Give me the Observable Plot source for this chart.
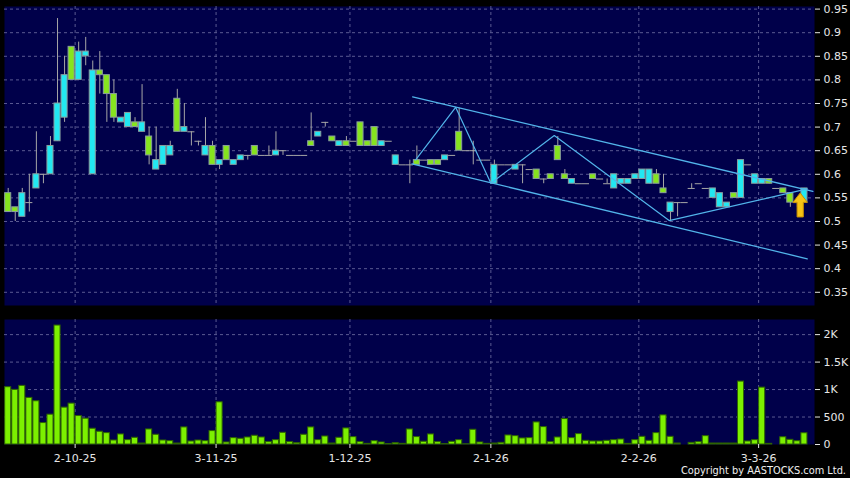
<!DOCTYPE html>
<html>
<head>
<meta charset="utf-8">
<script src="https://cdn.jsdelivr.net/npm/d3@7"></script>
<script src="https://cdn.jsdelivr.net/npm/@observablehq/plot@0.6"></script>
<style>
html,body{margin:0;padding:0;background:#000;}
#wrap{position:relative;width:850px;height:478px;background:#000;overflow:hidden;font-family:"DejaVu Sans",sans-serif;}
#wrap svg{display:block;}
#copy{position:absolute;right:4px;top:465px;color:#f0f0f0;font-size:9.8px;line-height:12px;font-family:"DejaVu Sans",sans-serif;white-space:nowrap;}
</style>
</head>
<body>
<div id="wrap"><div id="copy">Copyright by AASTOCKS.com Ltd.</div></div>
<script>
// ---- data (bar index 1..114) ----
const openP  = [0.56,0.53,0.51,0.54,0.57,0.60,0.60,0.67,0.72,0.87,0.80,0.85,0.60,0.82,0.81,0.77,0.71,0.70,0.71,0.69,
0.68,0.61,0.62,0.64,0.76,0.69,0.69,0.67,0.64,0.66,0.62,0.66,0.62,0.63,0.64,0.66,0.64,0.64,0.64,0.65,
0.64,0.64,0.64,0.67,0.68,0.71,0.68,0.66,0.67,0.67,0.71,0.67,0.70,0.66,0.67,0.62,0.62,0.62,0.63,0.63,
0.63,0.63,0.63,0.64,0.69,0.65,0.65,0.63,0.63,0.58,0.62,0.62,0.61,0.62,0.61,0.61,0.59,0.60,0.66,0.60,
0.58,0.58,0.58,0.60,0.59,0.58,0.57,0.58,0.58,0.59,0.59,0.58,0.60,0.57,0.52,0.54,0.54,0.57,0.58,0.57,
0.55,0.53,0.53,0.56,0.55,0.62,0.58,0.58,0.59,0.57,0.57,0.56,0.54,0.54];
const highP  = [0.57,0.53,0.57,0.60,0.69,0.60,0.68,0.93,0.85,0.87,0.88,0.89,0.84,0.86,0.81,0.80,0.72,0.73,0.72,0.79,
0.70,0.70,0.66,0.67,0.78,0.75,0.69,0.67,0.72,0.67,0.63,0.66,0.63,0.64,0.64,0.66,0.64,0.66,0.69,0.65,
0.64,0.64,0.64,0.73,0.69,0.71,0.68,0.67,0.68,0.67,0.71,0.67,0.70,0.67,0.67,0.64,0.62,0.63,0.66,0.63,
0.63,0.63,0.64,0.64,0.74,0.65,0.67,0.63,0.63,0.63,0.62,0.62,0.62,0.62,0.61,0.61,0.59,0.60,0.68,0.61,
0.59,0.58,0.58,0.60,0.59,0.59,0.60,0.59,0.59,0.60,0.61,0.61,0.61,0.60,0.54,0.54,0.54,0.58,0.58,0.57,
0.57,0.56,0.54,0.56,0.63,0.62,0.60,0.59,0.59,0.57,0.57,0.56,0.55,0.57];
const lowP   = [0.52,0.50,0.51,0.52,0.57,0.58,0.60,0.67,0.71,0.80,0.80,0.83,0.60,0.77,0.71,0.71,0.71,0.70,0.70,0.69,
0.62,0.61,0.62,0.64,0.69,0.69,0.66,0.66,0.64,0.62,0.61,0.63,0.62,0.63,0.63,0.64,0.64,0.64,0.64,0.64,
0.64,0.64,0.64,0.66,0.68,0.70,0.67,0.66,0.66,0.67,0.66,0.66,0.66,0.66,0.67,0.62,0.62,0.58,0.62,0.63,
0.62,0.62,0.63,0.64,0.65,0.65,0.62,0.63,0.63,0.58,0.62,0.62,0.61,0.58,0.61,0.59,0.58,0.59,0.63,0.59,
0.58,0.58,0.58,0.59,0.59,0.58,0.57,0.58,0.58,0.59,0.59,0.58,0.58,0.56,0.50,0.51,0.54,0.57,0.58,0.57,
0.55,0.53,0.53,0.55,0.55,0.62,0.58,0.58,0.58,0.57,0.56,0.53,0.53,0.54];
const closeP = [0.52,0.52,0.56,0.54,0.60,0.60,0.66,0.75,0.81,0.80,0.86,0.86,0.82,0.81,0.77,0.72,0.72,0.73,0.70,0.71,
0.64,0.63,0.66,0.66,0.69,0.70,0.69,0.67,0.66,0.62,0.63,0.63,0.63,0.64,0.64,0.64,0.64,0.64,0.65,0.65,
0.64,0.64,0.64,0.66,0.69,0.71,0.67,0.67,0.66,0.67,0.66,0.66,0.66,0.67,0.67,0.64,0.62,0.62,0.62,0.63,
0.62,0.62,0.64,0.64,0.65,0.65,0.65,0.63,0.63,0.62,0.62,0.62,0.62,0.62,0.61,0.59,0.59,0.59,0.63,0.59,
0.59,0.58,0.58,0.59,0.59,0.58,0.60,0.59,0.59,0.60,0.61,0.61,0.58,0.56,0.54,0.54,0.54,0.57,0.58,0.57,
0.57,0.56,0.54,0.55,0.63,0.62,0.60,0.59,0.58,0.57,0.56,0.54,0.54,0.57];
const volume = [1043,994,1067,848,787,390,543,2165,671,744,518,470,287,232,207,73,183,79,122,18,
274,177,73,61,18,311,55,73,61,244,768,37,116,104,128,159,128,43,79,213,
43,24,177,311,79,146,18,122,293,134,43,12,61,37,6,24,12,274,135,50,
183,43,5,49,79,3,268,37,12,18,30,165,152,110,116,402,317,43,128,463,
116,189,67,55,55,67,79,91,12,79,140,67,207,530,140,18,0,30,43,152,
18,18,18,18,1145,55,79,1035,12,0,132,85,60,205];

// month boundaries (first bar of month) and their labels
const monthBars   = [11, 31, 50, 70, 91, 108];
const monthLabels = ["2-10-25", "3-11-25", "1-12-25", "2-1-26", "2-2-26", "3-3-26"];
const priceTicks  = [0.35,0.4,0.45,0.5,0.55,0.6,0.65,0.7,0.75,0.8,0.85,0.9,0.95];
const volTicks    = [0, 500, 1000, 1500, 2000];

// hand-drawn trend lines (bar position, price)
const upperBar = [58.4, 115.2],  upperPrice = [0.764, 0.564];
const lowerBar = [58.3, 114.4],  lowerPrice = [0.622, 0.421];
const zigBar   = [58.8, 64.5, 69.5, 78.5, 94.8, 114.4];
const zigPrice = [0.630, 0.742, 0.581, 0.682, 0.502, 0.569];
const arrowBar = [113.4], arrowPrice = [0.535];

// ---- styles ----
const NAVY = "#00004a", GRID = "#5a5a92", UP = "#22e8f2", DOWN = "#86e41e",
      WICK = "#a6a6a6", VOL = "#7cf000", VOLSTROKE = "#2e6400", LINE = "#52b4ea", TXT = "#e6e6e6";
const XDOM = [0.475, 115.43];
const HALF = 0.43;

const bars = openP.map((o, k) => ({
  i: k + 1, open: o, high: highP[k], low: lowP[k], close: closeP[k], vol: volume[k]
}));
const bodies = bars.filter(d => d.open !== d.close);
const dojis = bars.filter(d => d.open === d.close);
const gridPos = monthBars.map(b => b - 0.5);
const mkLine = (bx, py) => bx.map((b, k) => ({b, p: py[k]}));

const arrowSymbol = {
  draw(ctx, size) {
    const r = Math.sqrt(size / Math.PI);
    const hw = 0.6 * r, sw = 0.26 * r, hb = -0.22 * r;
    ctx.moveTo(0, -r);
    ctx.lineTo(hw, hb);
    ctx.lineTo(sw, hb);
    ctx.lineTo(sw, r);
    ctx.lineTo(-sw, r);
    ctx.lineTo(-sw, hb);
    ctx.lineTo(-hw, hb);
    ctx.closePath();
  }
};

const common = {
  width: 850, marginLeft: 4, marginRight: 36,
  style: {background: "transparent", fontFamily: "DejaVu Sans", fontSize: "11px", color: TXT, overflow: "visible"}
};

const priceChart = Plot.plot({
  ...common,
  height: 312, marginTop: 6, marginBottom: 7,
  x: {domain: XDOM, axis: null},
  y: {domain: [0.322, 0.9555], axis: null},
  marks: [
    Plot.frame({fill: NAVY, stroke: null}),
    Plot.gridY(priceTicks, {stroke: GRID, strokeOpacity: 1, strokeDasharray: "3,3"}),
    Plot.gridX(gridPos, {stroke: GRID, strokeOpacity: 1, strokeDasharray: "3,3"}),
    Plot.axisY(priceTicks, {anchor: "right", label: null, tickSize: 5, tickPadding: 4, color: TXT,
      tickFormat: d => String(+d.toFixed(2))}),
    Plot.ruleX(bars, {x: "i", y1: "low", y2: "high", stroke: WICK, strokeWidth: 1}),
    Plot.ruleY(dojis, {y: "close", x1: d => d.i - 0.5, x2: d => d.i + 0.5, stroke: WICK, strokeWidth: 1}),
    Plot.rect(bodies, {
      x1: d => d.i - HALF, x2: d => d.i + HALF,
      y1: "open", y2: "close",
      fill: d => d.close > d.open ? UP : DOWN,
      stroke: "#8a9e9e", strokeWidth: 1
    }),
    Plot.line(mkLine(upperBar, upperPrice), {x: "b", y: "p", stroke: LINE, strokeWidth: 1.3}),
    Plot.line(mkLine(lowerBar, lowerPrice), {x: "b", y: "p", stroke: LINE, strokeWidth: 1.3}),
    Plot.line(mkLine(zigBar, zigPrice), {x: "b", y: "p", stroke: LINE, strokeWidth: 1.2}),
    Plot.dot(mkLine(arrowBar, arrowPrice), {x: "b", y: "p", r: 12, symbol: arrowSymbol,
      fill: "#f6c414", stroke: "#c98f00", strokeWidth: 1})
  ]
});

const volChart = Plot.plot({
  ...common,
  height: 166, marginTop: 7, marginBottom: 34,
  x: {domain: XDOM, axis: null},
  y: {domain: [0, 2275], axis: null},
  marks: [
    Plot.frame({fill: NAVY, stroke: null}),
    Plot.gridY(volTicks.filter(v => v > 0), {stroke: GRID, strokeOpacity: 1, strokeDasharray: "3,3"}),
    Plot.gridX(gridPos, {stroke: GRID, strokeOpacity: 1, strokeDasharray: "3,3"}),
    Plot.rect(bars, {x1: d => d.i - HALF, x2: d => d.i + HALF, y1: 0, y2: "vol",
      fill: VOL, stroke: VOLSTROKE, strokeWidth: 1}),
    Plot.axisY(volTicks, {anchor: "right", label: null, tickSize: 5, tickPadding: 4, color: TXT,
      tickFormat: d => d >= 1000 ? (d / 1000) + "K" : String(d)}),
    Plot.axisX(gridPos, {anchor: "bottom", label: null, tickSize: 4, tickPadding: 6, color: TXT,
      tickFormat: (d, k) => monthLabels[k]})
  ]
});

const wrap = document.getElementById("wrap");
wrap.insertBefore(volChart, wrap.firstChild);
wrap.insertBefore(priceChart, volChart);
</script>
</body>
</html>
